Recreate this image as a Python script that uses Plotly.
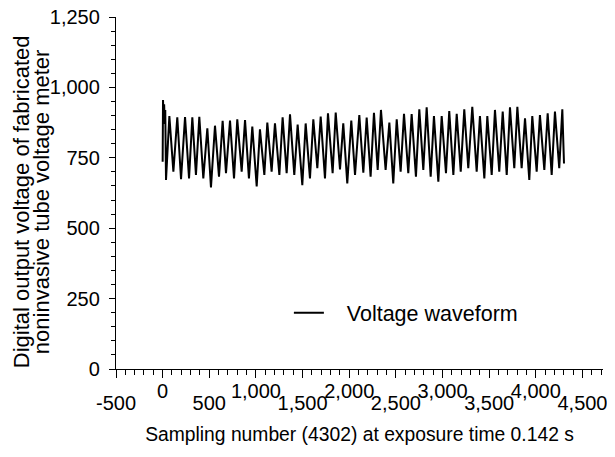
import plotly.graph_objects as go

# ---- data ----
# initial spike at the start of the exposure
spike_x = [0, 4, 10, 16, 22, 28]
spike_v = [736, 955, 880, 940, 870, 920]

# troughs of the waveform (sample number, digital output)
trough_x = [36, 115, 197, 283, 357, 436, 518, 604, 679, 765, 847, 925, 1008, 1090,
            1168, 1251, 1329, 1411, 1497, 1579, 1658, 1740, 1822, 1901, 1979, 2062,
            2151, 2229, 2305, 2390, 2472, 2551, 2633, 2715, 2794, 2873, 2955, 3037,
            3116, 3195, 3276, 3366, 3448, 3527, 3608, 3688, 3769, 3848, 3930, 4009,
            4091, 4170, 4251]
trough_v = [671, 701, 674, 677, 689, 677, 645, 683, 695, 677, 701, 677, 648, 689,
            701, 689, 695, 689, 653, 677, 713, 677, 695, 709, 659, 689, 697,
            683, 707, 707, 659, 701, 695, 683, 707, 683, 665, 695, 689, 701, 713,
            701, 677, 689, 701, 689, 713, 713, 671, 701, 707, 689, 713]

# peaks of the waveform
peak_x = [72, 157, 240, 318, 393, 479, 561, 643, 722, 800, 883, 961, 1043, 1122,
          1204, 1286, 1365, 1447, 1533, 1615, 1694, 1772, 1855, 1936, 2022, 2108,
          2187, 2265, 2340, 2430, 2509, 2587, 2669, 2751, 2830, 2908, 2991, 3072,
          3152, 3233, 3319, 3401, 3480, 3562, 3645, 3723, 3802, 3884, 3962, 4044,
          4127, 4205, 4284]
peak_v = [898, 894, 895, 894, 896, 855, 864, 881, 882, 887, 884, 861, 851, 875,
          872, 894, 904, 868, 872, 887, 896, 908, 911, 872, 882, 902, 893,
          910, 920, 875, 887, 906, 905, 922, 929, 898, 898, 916, 906, 922, 931,
          898, 898, 920, 914, 929, 931, 890, 898, 902, 908, 914, 922]

end_x = [4302]
end_v = [730]

# tick labels (staggered in two rows)
upper_tick_vals = [0, 1000, 2000, 3000, 4000]
upper_tick_text = ["0", "1,000", "2,000", "3,000", "4,000"]
lower_tick_vals = [-500, 500, 1500, 2500, 3500, 4500]
lower_tick_text = ["-500", "500", "1,500", "2,500", "3,500", "4,500"]
y_tick_vals = [0, 250, 500, 750, 1000, 1250]

y_title_lines = ["Digital output voltage of fabricated",
                 "noninvasive tube voltage meter"]

# ---- build the zig-zag series ----
xs = list(spike_x)
ys = list(spike_v)
for tx, tv, px, pv in zip(trough_x, trough_v, peak_x, peak_v):
    xs += [tx, px]
    ys += [tv, pv]
xs += end_x
ys += end_v

FONT = "Liberation Sans, Arial, sans-serif"
TICKFONT = dict(family=FONT, size=20, color="black")

fig = go.Figure()
fig.add_trace(go.Scatter(
    x=xs, y=ys, mode="lines",
    line=dict(color="black", width=2),
    name="\u00a0\u00a0\u00a0Voltage waveform",
    showlegend=True,
))
# empty trace so the second (staggered-label) x axis is drawn
fig.add_trace(go.Scatter(x=[], y=[], xaxis="x2", yaxis="y",
                         showlegend=False, hoverinfo="skip"))

axis_common = dict(
    showgrid=False, zeroline=False, automargin=False,
    ticks="outside", tickcolor="black", tickwidth=1.2,
    tickfont=TICKFONT, ticklabeloverflow="allow",
)

# the page body adds an 8 px offset, so the figure is sized 8 px smaller
fig.update_layout(
    width=607, height=449,
    margin=dict(l=108, r=12, t=9, b=88),
    paper_bgcolor="white", plot_bgcolor="white",
    font=dict(family=FONT, size=18, color="black"),
    xaxis=dict(
        range=[-500, 4720],
        showline=True, linecolor="black", linewidth=1.3,
        tickmode="array", tickvals=upper_tick_vals, ticktext=upper_tick_text,
        ticklen=8, ticklabelstandoff=-4,
        minor=dict(ticks="outside", tick0=0, dtick=100, ticklen=5,
                   tickcolor="black", tickwidth=1),
        title=dict(text="Sampling number (4302) at exposure time 0.142 s",
                   font=dict(family=FONT, size=19.3, color="black"), standoff=26),
        **axis_common,
    ),
    xaxis2=dict(
        range=[-500, 4720], overlaying="x", anchor="y", side="bottom",
        showline=False,
        tickmode="array", tickvals=lower_tick_vals, ticktext=lower_tick_text,
        ticklen=8, ticklabelstandoff=8,
        **axis_common,
    ),
    yaxis=dict(
        range=[0, 1250],
        showline=True, linecolor="black", linewidth=1.3,
        tickmode="array", tickvals=y_tick_vals, tickformat=",",
        ticklen=6, ticklabelstandoff=5,
        minor=dict(ticks="outside", tick0=0, dtick=50, ticklen=4,
                   tickcolor="black", tickwidth=1),
        **axis_common,
    ),
    legend=dict(
        x=0.355, y=0.16, xanchor="left", yanchor="middle",
        bgcolor="rgba(0,0,0,0)", font=dict(family=FONT, size=21.5, color="black"),
    ),
)

# y-axis title, two tightly spaced rotated lines
for xpos, line in zip([-0.195, -0.154], y_title_lines):
    fig.add_annotation(
        text=line, xref="paper", yref="paper", x=xpos, y=0.474,
        xanchor="center", yanchor="middle", textangle=-90, showarrow=False,
        font=dict(family=FONT, size=22, color="black"),
    )

fig.write_html("out.html")
